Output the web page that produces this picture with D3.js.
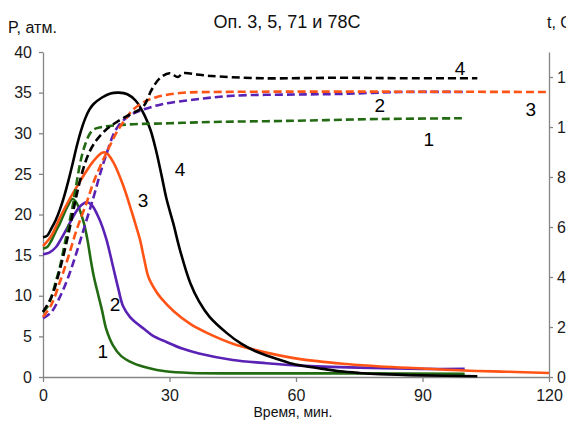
<!DOCTYPE html>
<html>
<head>
<meta charset="utf-8">
<script src="https://cdn.jsdelivr.net/npm/d3@7"></script>
<style>
  body { margin: 0; background: #fff; overflow: hidden; }
  svg { display: block; font-family: "Liberation Sans", Arial, sans-serif; }
</style>
</head>
<body>
<svg id="chart" width="566" height="423"></svg>
<script>
// pressure, атм. (left axis)
var p1 = [[0,15.8],[1,16],[2,16.8],[3,17.9],[4,18.9],[5,20.1],[6,21.2],[7,21.9],[8,21.4],[9.5,19.3],[10.5,17],[11.3,14.5],[12,12.5],[13,10.3],[14,8.2],[15,5.9],[16.6,3.9],[18.5,2.6],[21.4,1.7],[25,1.1],[29,0.7],[35,0.5],[50,0.45],[75,0.45],[100,0.4]];
var p2 = [[0,15.1],[1.5,15.3],[3.1,16],[4.3,17],[5.5,18.1],[7.8,20.3],[9,21.1],[10.3,21.5],[11.5,21.2],[13.3,19.5],[15,17],[16.6,13.6],[17.8,11],[19,8.7],[20.6,7.4],[22,6.7],[24,5.9],[26,5.1],[29.3,4.3],[33,3.5],[37,2.9],[45,2.1],[53,1.7],[61,1.4],[75,1.15],[90,1],[100,1]];
var p3 = [[0,16.1],[2,17.4],[4,19.6],[6,21.6],[8,23.4],[10,25.1],[12,26.6],[14,27.6],[15,27.6],[16.6,26.5],[19,23.6],[21,20.4],[22,18.7],[23,16.9],[24,14.5],[25,12.3],[26.5,10.8],[28,9.7],[31,8.1],[35,6.5],[39,5.4],[45,4.1],[53,3],[61,2.2],[72,1.6],[80,1.3],[90,1.05],[100,0.8],[110,0.65],[120,0.5]];
var p4 = [[0,17.2],[1,17.4],[2,18.3],[3,19.3],[4,20.6],[5,22.2],[6,24.1],[7,26.2],[8,28.4],[9,30.3],[10,31.8],[11,32.9],[12,33.6],[14,34.4],[16,34.9],[18,35],[20,34.8],[22,34],[24,32.3],[25.5,30.4],[26.8,27.9],[28.2,24.6],[29.3,21.9],[30.9,18.9],[32.5,15.6],[34.9,11.6],[37,9.3],[39.5,7.4],[43.6,5.4],[47,4.1],[50.7,3.1],[55,2.3],[58.6,1.7],[62,1.35],[66.4,1],[70.4,0.7],[75,0.5],[80,0.35],[90,0.2],[103,0.1]];

// temperature, t (right axis)
var t1 = [[0,2.6],[1,2.8],[2,3.2],[3,3.8],[4,4.4],[5,5.2],[6,6],[7,6.8],[8,7.8],[9,8.7],[10,9.3],[11,9.7],[12,9.9],[14,10],[20,10.1],[30,10.15],[40,10.2],[60,10.25],[80,10.32],[100,10.35]];
var t2 = [[0,2.35],[2,2.6],[4,3.2],[6,4],[8,5],[10,6.1],[12,7.2],[13.5,8.1],[15,8.9],[17.3,9.9],[20,10.4],[23,10.65],[28,10.9],[36,11.1],[45,11.25],[60,11.3],[70,11.32],[85,11.4],[100,11.4]];
var t3 = [[0,2.4],[2,2.9],[4,3.8],[6,4.8],[8,5.9],[10.4,7],[12,7.8],[14.3,8.7],[16,9.3],[17.5,9.8],[19.5,10.3],[21.4,10.7],[24,11],[27,11.2],[32.5,11.36],[40,11.4],[120,11.4]];
var t4 = [[0,2.6],[2,3.2],[4,4.3],[6,5.7],[7,6.5],[8,7.3],[9.5,8.3],[11,9],[12.8,9.5],[15,9.9],[17.5,10.2],[20.6,10.5],[23.7,10.8],[25.8,11.5],[27.7,11.95],[30,12.15],[32,12],[33.2,12.15],[36.5,12.1],[40,12.04],[52,11.95],[70,11.97],[85,11.95],[103,11.95]];

var xTicks = [0, 30, 60, 90, 120];
var pTicks = [0, 5, 10, 15, 20, 25, 30, 35, 40];
var tTicks = [0, 2, 4, 6, 8, 10, 12];

var series = [
  {data: p1, axis: "p", color: "#236b12"},
  {data: p2, axis: "p", color: "#5a22b4"},
  {data: p3, axis: "p", color: "#ff5416"},
  {data: p4, axis: "p", color: "#000000"},
  {data: t1, axis: "t", color: "#236b12", dash: true},
  {data: t2, axis: "t", color: "#5a22b4", dash: true},
  {data: t3, axis: "t", color: "#ff5416", dash: true},
  {data: t4, axis: "t", color: "#000000", dash: true}
];

// curve number labels, placed in time / pressure units
var labels = [
  {text: "4", x: 98.9, y: 38}, {text: "2", x: 79.9, y: 33.4},
  {text: "3", x: 115.7, y: 33}, {text: "1", x: 91.5, y: 29.3},
  {text: "4", x: 32.5, y: 25.5}, {text: "3", x: 23.7, y: 21.7},
  {text: "2", x: 17.1, y: 8.9}, {text: "1", x: 14.2, y: 3.1}
];

var svg = d3.select("#chart");
var mLeft = 43, mRight = 549, mTop = 52, mBottom = 377;

var x = d3.scaleLinear().domain([0, 120]).range([mLeft, mRight]);
var yP = d3.scaleLinear().domain([0, 40]).range([mBottom, mTop]);
var yT = d3.scaleLinear().domain([0, 13]).range([mBottom, mTop]);

function styleAxis(g) {
  g.select(".domain").attr("stroke", "#858585").attr("stroke-width", 1.3);
  g.selectAll(".tick line").attr("stroke", "#858585").attr("stroke-width", 1.3);
  g.selectAll(".tick text").attr("fill", "#1a1a1a").style("font-size", "16px");
}

svg.append("g")
  .attr("transform", "translate(0," + mBottom + ")")
  .call(d3.axisBottom(x).tickValues(xTicks).tickSize(5).tickSizeOuter(0).tickPadding(8))
  .call(styleAxis);

svg.append("g")
  .attr("transform", "translate(" + mLeft + ",0)")
  .call(d3.axisLeft(yP).tickValues(pTicks).tickSize(4).tickSizeOuter(0).tickPadding(7))
  .call(styleAxis);

svg.append("g")
  .attr("transform", "translate(" + mRight + ",0)")
  .call(d3.axisRight(yT).tickValues(tTicks).tickSize(4).tickSizeOuter(0).tickPadding(4))
  .call(styleAxis);

var line = function (scaleY) {
  return d3.line()
    .x(function (d) { return x(d[0]); })
    .y(function (d) { return scaleY(d[1]); })
    .curve(d3.curveCatmullRom.alpha(0.5));
};

series.forEach(function (s) {
  svg.append("path")
    .datum(s.data)
    .attr("fill", "none")
    .attr("stroke", s.color)
    .attr("stroke-width", 2.6)
    .attr("stroke-dasharray", s.dash ? "8,4" : null)
    .attr("d", line(s.axis === "p" ? yP : yT)(s.data));
});

svg.selectAll(".num")
  .data(labels)
  .enter().append("text")
  .attr("x", function (d) { return x(d.x); })
  .attr("y", function (d) { return yP(d.y); })
  .attr("text-anchor", "middle")
  .attr("dy", "0.35em")
  .style("font-size", "19px")
  .attr("fill", "#000")
  .text(function (d) { return d.text; });

svg.append("text").attr("x", 287).attr("y", 28).attr("text-anchor", "middle")
  .style("font-size", "18px").attr("fill", "#111").text("Оп. 3, 5, 71 и 78С");
svg.append("text").attr("x", 8).attr("y", 33)
  .style("font-size", "16px").attr("fill", "#111").text("P, атм.");
svg.append("text").attr("x", 547).attr("y", 28)
  .style("font-size", "16px").attr("fill", "#111").text("t, C");
svg.append("text").attr("x", 293).attr("y", 417).attr("text-anchor", "middle")
  .style("font-size", "14px").attr("fill", "#111").text("Время, мин.");
</script>
</body>
</html>
